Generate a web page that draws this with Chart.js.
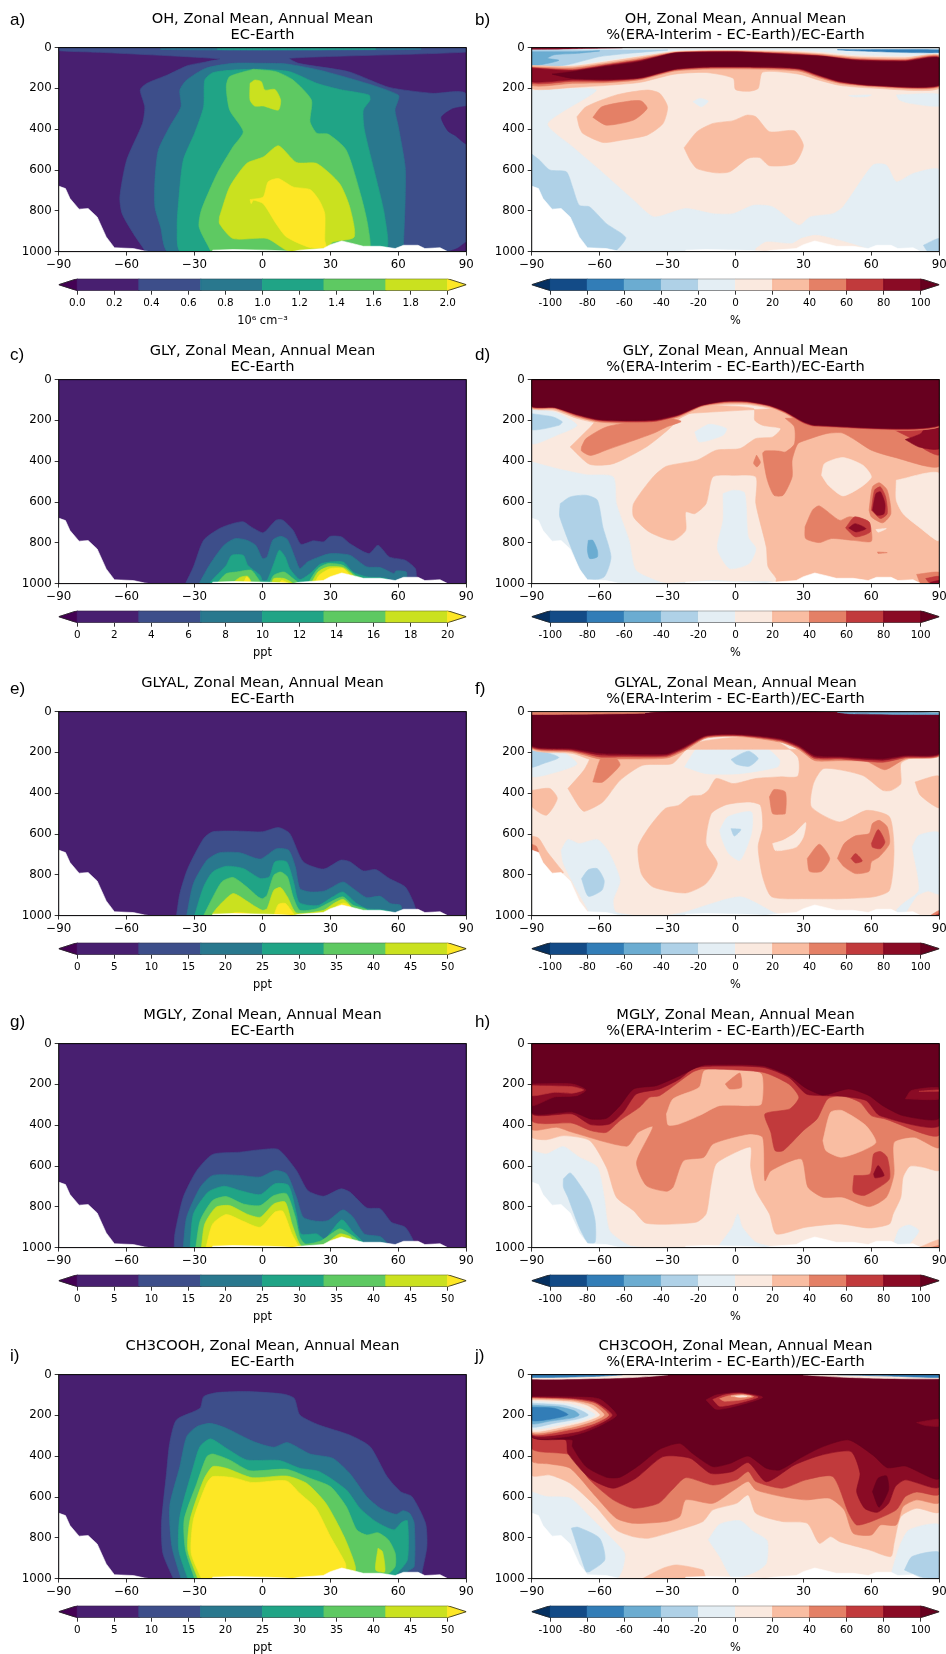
<!DOCTYPE html>
<html><head><meta charset="utf-8">
<script src="https://cdn.jsdelivr.net/npm/chart.js@4"></script>
<style>
html,body{margin:0;padding:0;background:#fff;}
body{position:relative;width:946px;height:1654px;overflow:hidden;font-family:"DejaVu Sans",sans-serif;}
canvas{position:absolute;}
.tag{position:absolute;font:17px "Liberation Sans",sans-serif;color:#000;line-height:20px;}
</style></head><body>
<script>
// ---- tick labels and colour bars ----
const latTicks=[-90,-60,-30,0,30,60,90];
const presTicks=[0,200,400,600,800,1000];
const ohTicks=[0,0.2,0.4,0.6,0.8,1,1.2,1.4,1.6,1.8,2];
const glyTicks=[0,2,4,6,8,10,12,14,16,18,20];
const pptTicks=[0,5,10,15,20,25,30,35,40,45,50];
const pctTicks=[-100,-80,-60,-40,-20,0,20,40,60,80,100];
const ohLevels=[0,0.333,0.667,1,1.333,1.667,2];
const glyLevels=[0,3.33,6.67,10,13.33,16.67,20];
const pptLevels=[0,8.33,16.67,25,33.33,41.67,50];
const pctLevels=[-100,-80,-60,-40,-20,0,20,40,60,80,100];
const viridisColors=['#481f70','#3d4e8a','#29788e','#20a486','#5ec962','#cae11f'];
const rdbuColors=['#134b87','#327db7','#6bacd1','#afd1e7','#e4eef4','#fae9df','#f9bda2','#e48066','#c13a3c','#8a0b25'];
const C={L1:'#481f70',L2:'#3d4e8a',L3:'#29788e',L4:'#20a486',L5:'#5ec962',L6:'#cae11f',L7:'#fde725',
 B5:'#134b87',B4:'#327db7',B3:'#6bacd1',B2:'#afd1e7',B1:'#e4eef4',P1:'#fae9df',P2:'#f9bda2',P3:'#e48066',P4:'#c13a3c',P5:'#8a0b25',P6:'#67001f'};

// ---- orography: latitude, pressure pairs ----
const terrain=[-90,679,-87,691,-85,740,-81,792,-77,789,-73,830,-69,928,-65.4,981,-57,985,-52,997,-50,1000,-22,1000,-22,993,-13,990,2,993,10.6,997,13,1000,16.5,993,26.8,985,30,966,35,948,40,961,44.5,974,52,974,58.6,985,62.3,969,68.7,969,71.7,985,78.4,981,81.8,1000,90,1000,90,1001,-90,1001];

// ---- a) OH, EC-Earth: contour outlines as latitude, pressure pairs ----
const a2=[-90,0,90,0,90,22,12,52,16,77,38,118,56,195,75,224,90,230,90,1000,-52,1000,-52,994,-57,912,-62,814,-63,732,-60,552,-53,372,-52,290,-54,207,-51,175,-42,134,-33,88,-25,70,-19,55,-72,23,-90,15];
const a1r=[90,287,84,300,79,342,82,410,85,430,90,470];
const a1b=[82,1000,86,985,90,955,90,1000];
const a3=[1.7,77,10.6,80,28,118,60,232,58.5,306,60,388,63,584,63,748,62.2,977,62,1000,-41.6,1000,-45,879,-47.5,781,-47.5,650,-46,503,-41,388,-36,290,-36.5,208,-33.5,159,-25,101,-13,77];
const a3t=[-45,5,0,3,70,5,70,9,0,13,-45,9];
const a4t=[-20,6,0,5,50,6,50,8,0,9,-20,8];
const a4=[-1,105,12,118,24,175,34,205,47,232,47.5,257,44.5,306,45,404,50,634,54,830,54,1000,-36,1000,-37.7,879,-37,748,-35,552,-30,420,-26,290,-25.5,159,-22,123,-13,110];
const a5=[-4,106,6,118,13.5,159,21.6,257,21,363,24,420,29,424,37,503,43.6,732,46.6,879,46.6,1000,-23,1000,-23,994,-28,879,-27,797,-20,617,-13,486,-8.5,412,-14.5,306,-16,191,-14.5,142];
const a6u=[-5.5,175,-3.4,159,-0.5,167,1,208,5.5,205,8,257,7,306,0.3,286,-3.5,286,-5.5,257];
const a6=[-19,830,-14.5,683,-7,568,0.5,535,7,481,15,563,24,568,34,666,38.5,781,40.5,928,31,953,28,985,12,1000,2,936,-13,936,-19,863];
const a7=[-5.5,745,0.3,732,2.5,658,7,642,13.5,683,21,696,25,748,27.5,814,27.5,945,28,977,21,980,10.6,928,6,863,0.3,765,-4,748,-5,765];

// ---- b) OH difference ----
const b1=[-90,210,-61.5,208,-83,372,-72,486,-60,600,-45,748,-36,830,-22,789,-10,814,-1,814,8,773,16.5,781,28,871,33,830,43,814,47.5,781,60.7,576,66.6,576,71,658,78.5,617,90,600,90,1000,-90,1000];
const b1p=[9,985,13.6,953,25,961,29,936,35.6,920,46,945,57.6,985,57.6,1000,9,1000];
const b1r=[71,232,90,229,90,286,77,273,72.4,257];
const b1s=[50,235,60,232,58,240,52,241];
const b1c=[-18.8,265,-15.8,249,-12,262,-15,290];
const b2=[-90,522,-86.5,552,-82,600,-74.7,609,-72,683,-69,773,-64.4,781,-57,863,-48.5,931,-52.6,994,-55,1000,-90,1000];
const b2r=[83,969,90,936,90,1000,85,1000];
const bP2a=[-70,339,-66,290,-52.6,232,-39,208,-33.5,224,-30,290,-32,372,-39,429,-50,453,-58.5,465,-67.4,421,-69,388];
const bP3a=[-63,342,-59,290,-46.7,262,-41.6,262,-39,298,-45,355,-57,380];
const bP2b=[-22.7,491,-17,412,-10,372,-1,358,5,331,9,339,15,412,26,408,30,481,26,568,15,579,10.6,539,5.5,543,-2.6,609,-8.6,614,-17,593,-20,552];
const bTop1=[-90,5,90,5,90,30,75,40,53,35,38,20,24,12,2,10,-13,10,-27,15,-42,38,-57,62,-72,85,-90,80];
const bTop2=[-90,12,-30,12,-33,15,-47,28,-60,44,-74.7,85,-90,93];
const bTop2r=[60,10,90,8,90,22,75,25];
const bTop3=[-90,20,-70,20,-60,16,-70,28,-80,35,-83,52,-78,62,-82,75,-90,85];
const bTop4=[45,10,70,10,90,12,90,24,70,22,50,14];
const bTop5=[-90,0,-50,0,-70,5,-90,8];
const bBand2=[-90,88,-72,92,-57,70,-42,45,-27,20,-13,15,2,15,24,20,38,30,53,45,75,50,90,38,90,200,60,198,46,185,37,160,28,130,12,120,10,200,6,214,0,205,-1,150,-13,122,-27,130,-42,170,-57,185,-72,195,-90,200];
const bBand3=[-90,95,-72,100,-57,78,-42,53,-27,24,-13,18,2,18,24,26,38,35,53,52,75,58,90,42,90,192,60,190,46,175,37,148,28,115,9,105,-13,105,-27,115,-42,157,-57,172,-72,175,-90,185];
const bBand4=[-90,98,-72,108,-57,84,-42,60,-27,25,-13,20,2,20,24,30,38,40,53,58,75,62,90,47,90,188,60,187,46,170,37,141,28,108,9,99,-13,99,-27,110,-42,152,-57,165,-72,165,-90,175];
const bBand5=[-90,101,-72,112,-57,88,-42,64,-27,27,-13,22,2,22,24,33,38,42,53,60,75,65,90,50,90,185,60,185,46,167,37,137,28,104,9,96,-13,96,-27,107,-42,149,-57,160,-72,158,-90,167];
const bBand6=[-81,130,-72,118,-57,93,-42,69,-27,28,-13,23,2,23,24,36,38.6,44,53.4,64,75,69,90,52,90,183,60,183,46,164,37,134,28,101,9,93,-13,93,-27,105,-42,146,-57,155,-72,151];

// ---- c) GLY, EC-Earth ----
const c2=[-34,1000,-30.5,918,-26,787,-19,730,-13,705,-8.5,697,-5,722,0,751,1.8,738,6,689,9,689,13.5,738,17,807,22.4,790,27,795,30,768,35,771,38.6,804,47,853,51,812,56,869,63,885,67.5,926,68,967,68,1000];
const c3=[-28,1000,-23,902,-17,812,-12,779,-7,787,-3,812,0,877,2,869,4.5,787,8,768,11,784,14.5,877,16.5,926,20,893,25,869,30,853,38.6,861,46,918,52,921,58,951,59,938,63.5,943,63.5,975,60,1000];
const c4=[-23,1000,-23,992,-16,910,-13.6,861,-8.5,861,-6.5,910,-1,960,0,985,2,985,5,902,7.4,836,10,869,12,926,16.5,980,21,951,26,902,35.5,894,40,943,46,967,55,975,55,1000];
const c5a=[-20,1000,-20,997,-16,951,-11.5,943,-5,934,-3,959,-1,1000];
const c5b=[3,1000,5,959,9.5,943,13.5,975,16,1000];
const c5c=[20,1000,24.5,926,29,902,35.5,910,41,959,44.5,975,46,1000];
const c6a=[-13.5,1000,-10,970,-6.5,964,-5,1000];
const c6b=[4,1000,5,975,9.5,975,13.5,1000];
const c6c=[21.5,1000,24.5,943,29,918,35.5,921,40,959,42,1000];
const c7a=[-8.5,1000,-7,967,-5.5,985,-6,1000];
const c7b=[7.4,1000,8.5,984,11.5,1000];
const c7c=[23,1000,25,959,30,926,35.5,926,38.5,959,38.5,1000];

// ---- d) GLY difference ----
const d1=[-90,403,-79,436,-66,466,-54,477,-52.6,608,-47,788,-44,935,-33.5,992,-30,1000,-90,1000];
const d1t=[-90,142,-79,163,-70,224,-79,273,-90,314];
const d2t=[-90,167,-80.6,183,-76.5,207,-78,224,-90,245];
const d1c=[-5.5,559,-1,542,4,555,5.6,771,9,828,6,902,-2.6,926,-8,828,-5.5,690];
const d1b=[-30,1000,-10,985,0,990,15,990,18,1000];
const d2m=[-77.4,608,-73,575,-66,567,-61,591,-58.6,722,-55,869,-58,967,-65,984,-69,918,-77.6,673];
const d3m=[-65,788,-63,788,-61,837,-61,869,-64.4,877,-65.4,837];
const d1u=[-18,257,-11.6,219,-4,240,-5.5,273,-16,306];
const dP2=[-73,330,-64,232,-60,190,90,190,90,1000,18,1000,18,975,14.4,918,13.6,820,9,608,9,477,-1,469,-10,477,-13,608,-18,657,-22,649,-22,739,-27.6,788,-38,747,-45,673,-45,608,-36.4,477,-30.5,425,-17,395,-8.5,346,2,338,9,289,16.5,281,20,240,12,224,8.5,199,8,142,-13,129,-22,167,-30,248,-39.4,330,-54,412,-64.4,415];
const dP2rim=[-90,0,90,0,90,225,30,225,22,170,15,140,5,122,-5,122,-15,140,-25,190,-35,218,-45,222,-60,215,-70,190,-80,150,-90,140];
const dP1r=[71,493,90,461,90,788,81,722,74,657,71,591];
const dP1i=[38,469,39.3,412,47.4,382,56.3,420,60,477,55.5,526,47.4,570,41,518];
const dP1s=[62,735,66.6,730,63,748];
const dP3l=[-68,330,-66,289,-57,232,-42,200,-30,190,-24,205,-30,230,-36,262,-48,310,-57,345,-64,372,-68,350];
const dP3c=[22,190,90,170,90,425,69.6,379,60,346,53,297,47,261,40,265,31,297,27.5,314,25,395,25,477,21,567,17,567,14,490,12,362,13,350,19,350,22,355,26,316,26,232];
const dP3t=[9.3,370,11,405,9.5,428,8,410];
const dP3a=[30.7,722,34,640,37,619,46,690,50,673,55.6,681,59,698,60,792,52,788,42.4,779,37,799,31,779];
const dP4a=[48.6,727,52.6,673,59,698,59.5,747,53,771];
const dP5a=[50,727,52.8,706,57.6,730,53.3,747];
const dP3h=[59,640,60.5,526,63.5,506,67,542,68.6,657,65,702,60,673];
const dP4h=[60,640,61.4,542,64,526,66.3,575,67,657,64,681];
const dP5h=[60.5,640,62,559,64,550,66,608,65.6,657,62.7,665];
const dP3s=[62.7,845,67,848,63,852];
const dP4r=[68,170,90,170,90,368,84,345,77,285,68,229];
const dP5r=[75,294,81.8,265,84,235,90,222,90,338,81,330];
const dB3r=[80,955,90,945,90,1000,82,1000];
const dB4r=[84,975,90,965,90,1000,86,1000];
const dB5r=[86,994,90,985,90,1000,87,1000];
const dBand3=[-90,0,90,0,90,232,35,232,30,218,22,165,15,133,5,115,-5,115,-15,132,-25,182,-35,210,-45,215,-60,208,-70,182,-80,142,-90,135];
const dBand4=[-90,0,90,0,90,228,35,228,30,212,22,160,15,129,5,110,-5,110,-15,128,-25,176,-35,204,-45,208,-60,202,-70,176,-80,138,-90,132];
const dBand5=[-90,0,90,0,90,225,35,225,30,208,22,157,15,127,5,107,-5,107,-15,126,-25,173,-35,199,-45,203,-60,198,-70,172,-80,136,-90,130];
const dBand6=[-90,0,90,0,90,222,35,222,30,205,22,155,15,125,5,105,-5,105,-15,125,-25,170,-35,195,-45,200,-60,195,-70,170,-80,135,-90,128];

// ---- e) GLYAL, EC-Earth ----
const e2=[-38,1000,-36.5,892,-33,769,-26,622,-22,589,-10,586,0,589,7,568,12,597,18,736,27,772,34.6,728,38.6,736,44.5,781,50,774,56,818,63,859,66.6,933,68,982,68,1000];
const e3=[-33.5,1000,-30.5,843,-24.5,728,-19,692,-10,692,-1,723,6,673,11.5,679,14.5,761,16.5,867,21,884,27.5,879,35.5,835,40,867,46,912,52,905,56.5,941,61,949,61.5,982,60,1000];
const e4=[-30,1000,-26,859,-22,786,-16,758,-8.5,769,-1,818,3,810,5.5,736,10.6,736,13.5,826,16,933,20,949,25,949,31,908,35.5,884,41.6,941,46,966,53,971,57,982,57,1000];
const e5=[-26,1000,-23,933,-18,835,-13,813,-7,859,-2,908,0,917,2,900,5,802,8,786,11,810,13.5,908,16.5,974,24,966,30,933,35.5,908,40,949,46,971,46,1000];
const e6=[-22,1000,-22,990,-19,949,-13,892,-7,928,-3,957,0,974,2,966,5,876,8,862,11,908,15,987,27,974,31,944,35.5,920,38.5,949,40,1000];
const e7a=[-16,1000,-12,985,-6,990,-5,1000];
const e7b=[5,1000,7,945,10,940,12,965,14,1000];
const e7c=[31,975,33,950,36,938,39,955,40,975];

// ---- f) GLYAL difference ----
const f1a=[-90,181,-79,181,-70,255,-79,296,-90,317];
const f2a=[-90,193,-85,195,-78,225,-85,255,-90,271];
const f1c=[-22.5,271,-16,170,2,149,12,165,19.5,238,18.6,271,2,304,-13,304];
const f2c=[-2,235,2.6,206,6,194,10,230,6,268,0.4,258];
const f1m=[-7,582,-3.4,516,7,492,7,598,2,729,-3,695,-6,625];
const f2m=[-2,574,2.4,578,-0.5,610];
const f1l=[-77,680,-74,627,-69,647,-61,627,-56,688,-51,827,-54,925,-53,982,-45,1000,-65,1000,-65,977,-70,876,-76,745];
const f2l=[-68,819,-65,775,-61,770,-58,827,-59,876,-65,905];
const f1b=[-30,1000,-22,982,2,908,16.4,982,20,1000];
const f1r=[78,663,81,606,90,595,90,893,85,880,80,905,74,1000,71,977,74,941,81,876];
const fP2=[-74,377,-67,288,-64,222,-64,190,90,190,90,220,77,230,73,255,73,353,68.8,386,65,386,56,312,39,279,34.4,353,33.5,467,46,541,58,484,68,516,70,680,68,876,61,908,46,917,31,917,16,908,12,810,10,663,12,565,11,459,6,443,-4,456,-10.7,500,-13,647,-8,745,-13,843,-22,889,-36.4,860,-41.6,794,-43,663,-38,565,-31,475,-25,459,-20,415,-15,410,-12,386,-8.5,328,-1,353,9,328,19.5,320,27.5,317,27.5,222,16,132,2,124,-16,149,-22,190,-28,255,-41,263,-51,337,-58.6,443,-66.7,489,-69,467];
const fP2rim=[-90,0,-60,0,-60,240,-72,205,-90,184];
const fP1h=[16.4,647,21,631,26,598,31,544,30,614,27,663,20.7,680,17.5,680];
const fP2l=[-90,386,-82,377,-78.7,426,-83.5,508,-90,464];
const fP2r=[79.3,345,90,317,90,471,81.6,410];
const fP2s=[-90,610,-87,620,-83,690,-78,760,-76,790,-80,800,-83,790,-90,690];
const fP3s=[-90,650,-88,660,-87,690,-90,685];
const fP3a=[-63,345,-58.6,345,-51,263,-52.7,230,-59,222];
const fP3b=[15,418,17,382,22,394,22,500,20,503,16.4,500];
const fP3c=[31.7,720,37,650,41.6,720,38,783,32.7,783];
const fP3d=[45,720,48,647,53,609,59,598,60.5,549,63.5,533,67,565,68,647,63.5,712,60,737,59,783,53,794,48,761];
const fP4a=[51,720,53,696,56,732,53,742];
const fP4b=[60,647,63,578,66,639,64,672,60.5,665];
const fBand3=[-90,14,-40,8,-25,0,30,0,45,5,90,14,90,216,75,232,66,285,58,245,46,240,35,240,28,186,20,150,2,122,-13,130,-23,194,-30.6,228,-50,232,-60,232,-72,198,-90,178];
const fBand4=[-90,14,-40,8,-25,0,30,0,45,5,90,14,90,212,75,226,65,248,46,232,35,230,28,178,20,143,2,118,-13,124,-23,186,-30.6,220,-50,222,-60,222,-72,192,-90,174];
const fBand5=[-90,14,-40,8,-25,0,30,0,45,5,90,14,90,208,75,220,65,238,46,225,35,222,28,172,20,138,2,115,-13,120,-23,180,-30.6,213,-50,214,-60,212,-72,187,-90,170];
const fBand6=[-90,14,-40,8,-25,0,30,0,45,5,90,14,90,203,75,214,65,230,46,219,35,214,28,165,20,132,2,111,-13,116,-23,173,-30.6,206,-50,206,-60,203,-72,181,-90,165];
const fTopB=[45,3,70,3,90,6,90,14,50,10];
const fTopP=[-90,4,-40,3,-40,8,-90,14];
const fP3br=[86,1000,90,975,90,1000];
const fP4br=[88,1000,90,990,90,1000];

// ---- g) MGLY, EC-Earth ----
const g2=[-39,1000,-38.7,933,-35,753,-29,622,-22,543,-10,532,-1,520,7,519,15,622,20,720,27,748,34.6,712,38.6,728,46,805,52,810,57,876,63,900,66.6,966,66.6,1000];
const g3=[-35,1000,-33.5,851,-27.5,704,-22,646,-10,646,-1,654,5.5,622,10.6,638,15,753,18,851,24,871,29,867,35.5,815,40,851,45,933,52,946,55,979,55,1000];
const g4=[-32,1000,-30.5,835,-24,728,-17,699,-10,720,-1,740,5.5,687,11.5,695,15,835,17,933,24,933,27.5,957,35,864,40,925,44.5,974,44.5,1000];
const g5=[-29.5,1000,-27.5,867,-22,769,-16,750,-8.5,786,-1,794,5,745,10.6,736,14.5,851,16.5,949,19,982,26,966,34,908,38.5,933,42,962,42,1000];
const g6=[-27,1000,-25.5,884,-20.5,802,-14.5,794,-7,835,-1,851,5,786,10,777,13,884,16,974,18,1000,27.5,982,34,933,39,949,40,1000];
const g7=[-25,1000,-22,884,-16,838,-8.5,871,-1,900,5.5,826,9,822,13,933,16,995,16,1000];
const g7b=[31,975,33,955,35,947,38,960,40,975];

// ---- h) MGLY difference ----
const h1l=[-90,524,-83.5,541,-76,505,-69,557,-61,606,-58,753,-55.6,917,-47,990,-40,1000,-90,1000];
const h2l=[-76,663,-73,634,-69,688,-64.4,770,-62,868,-62,974,-65,979,-69,900,-74,753,-76,704];
const h1c=[-8,1000,-1.4,900,1,835,3,900,9,974,17,1000];
const h1r=[70,974,72.4,908,76.7,889,81,917,78,966,75,1000];
const hP2=[-90,0,90,0,90,619,83,606,77,601,74,655,73,753,69.6,835,68,884,59,904,46,884,31,900,18,933,15,835,9,721,6.7,606,6.7,508,0,533,-8.6,590,-11,704,-13,835,-17.6,876,-39.4,881,-45,819,-52.6,753,-57,606,-64.4,475,-76,451,-83.5,471,-90,456];
const hP3=[-90,0,90,0,90,508,79,459,70,484,70,639,66.6,753,59,799,47.4,753,38.6,753,32,704,29,565,15.6,623,13,672,12,459,6,443,-10,492,-14,557,-23,574,-27.6,704,-30.5,724,-39.4,696,-43.7,582,-36.5,407,-43,435,-48,503,-72,435,-79,410,-90,418];
const hP2i=[38.6,476,42,337,47,328,57.6,402,62,484,56,525,46.6,557,40,525];
const hP2t=[-30.5,345,-27.6,271,-16,214,-13.6,132,2,124,11.4,149,11.4,296,6,304,-7,304,-16,353,-25,394,-29.7,399];
const hP3s=[-4.5,198,-1,165,2,145,2.6,214,-2.6,222];
const hP4=[-90,0,90,0,90,448,66,369,60,353,55,288,47,255,40.7,271,36,369,30,426,21,525,17.5,525,15.6,435,13,345,24,320,28,263,23.5,198,12,140,-14.6,124,-19,140,-33.5,255,-38,263,-42.4,312,-51,377,-57,435,-64,426,-72,390,-90,377];
const hP4h=[52.3,647,59.4,639,61,541,64,529,67,557,68,663,61,721,56.5,745,52,729];
const hP5h=[61,639,63,598,65.6,647,61.6,658];
const hP5=[-90,0,90,0,90,402,63.7,353,57.7,279,47,258,38.6,255,31.3,247,23.5,165,12,116,-13,111,-19,124,-24.6,173,-33.5,222,-43.8,247,-49.6,337,-55.6,394,-64,397,-72,345,-90,342];
const hP6=[-90,0,90,0,90,364,74,353,65,304,59,255,50,222,38.6,252,31,217,23.6,157,12,108,-13,103,-17,116,-24.6,157,-35,206,-45,222,-51,304,-57,366,-64,369,-72,335,-90,337];
const hP5l=[-90,198,-72,198,-66,227,-70,255,-80,262,-90,304];
const hP4l=[-90,206,-72,211,-67,227,-72,243,-80,239,-90,255];
const hP5r=[75,271,77.6,230,90,217,90,271];
const hP4r=[81,234,90,227,90,233];
const hP2br=[81,1000,90,961,90,1000];
const hP3br=[86,1000,90,990,90,1000];

// ---- i) CH3COOH, EC-Earth ----
const i2=[-39.4,1000,-44,876,-44.6,729,-42.4,484,-41,337,-38,222,-27.6,165,-26,108,-20,88,-7,83,9,95,14,116,16.5,198,25,247,38.5,296,47.5,353,55,500,61,574,66,598,72,729,72.6,843,70.5,966,70,1000];
const i3=[-36,1000,-40,843,-41,647,-36.5,451,-33.5,304,-29,255,-23,239,-16,263,-4,328,5,356,11,333,21,389,31,410,38.5,484,46,598,52,655,59,685,62,667,65,680,67,729,67,941,64,966,63,1000];
const i4=[-33,1000,-37,860,-36.5,696,-30.5,451,-27.6,353,-23,315,-16,361,-7,418,7.5,421,16.5,459,25,475,37,565,43,655,50,720,58,761,61.5,724,64,716,64,908,59,982,58,1000];
const i5=[-30,1000,-34,860,-34.6,712,-29,533,-24.6,402,-22,389,-14.6,418,-5.6,471,10.6,464,21,508,30,549,37,647,41.6,761,46,786,51,775,55.6,810,58.6,876,58.6,941,55,982,50,1000];
const i6=[-28.6,1000,-33,860,-32,712,-26,516,-22,451,-16,459,-4.6,505,10.6,497,19.5,533,28,631,36,794,41,941,40,1000];
const i6b=[51,851,53,868,54,966,50,958];
const i7=[-27,1000,-31.5,876,-30.5,712,-24.6,533,-22,500,-13,505,-4.6,529,10.6,521,16.5,582,23.6,655,30,794,36.6,925,36.6,958,30,1000];

// ---- j) CH3COOH difference ----
const j1l=[-90,574,-83.5,598,-73,606,-64.4,696,-55.6,794,-49,876,-50,958,-52.6,1000,-90,1000];
const j2l=[-72.5,753,-69.6,748,-60,802,-57.7,908,-64.4,966,-66,966];
const j1c=[-12,810,-7,734,2,716,8,770,14,815,13.6,925,9,966,-1,1000,-7,892];
const j1r=[69,966,72.4,843,76.7,761,90,737,90,1000,82,1000,71,1000];
const j2r=[74.6,958,78,892,90,871,90,1000,82.5,993];
const jP2b=[-41,1000,-32,949,-26,933,-14.4,958,-13.6,982,-13,1000];
const jP2=[-90,0,90,0,90,672,80,655,73,696,70,827,68.6,892,59,859,46,819,42,794,37,827,31.7,729,20.6,720,9,680,5.6,590,0.4,631,-10,663,-14.4,720,-25,761,-38.4,802,-45.3,794,-52.7,761,-61.7,647,-73,533,-82,492,-90,492];
const jP3=[-90,0,90,0,90,626,80,614,74,647,71,737,64,737,60,786,52,778,48,663,41.5,606,31,614,20.6,598,9,565,5.6,524,0.4,557,-10,631,-22,614,-24.6,696,-30.6,720,-45,729,-52.7,704,-61.7,598,-73,459,-82,438,-90,422];
const jP4=[-90,0,90,0,90,585,80,575,75,598,71,663,60,720,53.5,737,50,680,43,500,31,516,20.6,557,9,524,5.6,475,0.4,516,-10,541,-22,505,-28,565,-34,631,-45,655,-54,614,-64.4,516,-73,394,-90,361];
const jP5=[-90,0,90,0,90,549,75,516,70.6,549,67.6,631,62.6,675,57,655,53.5,574,55,484,51,377,38,394,26,443,13.6,525,5.6,431,-1.3,475,-11,484,-20,410,-32,402,-44,508,-54,557,-64.4,508,-74,386,-75,320,-90,295];
const jP6=[-90,0,90,0,90,508,75,448,67,456,60.6,394,50,320,38.6,353,28.4,410,19.6,467,13.6,459,5.6,399,-2.4,435,-10,451,-19,386,-24.6,337,-33.5,366,-42.4,443,-51,503,-57,503,-66,451,-72,353,-72,320,-90,304];
const jh=[60.5,574,63,508,66.7,497,67.6,565,63.4,650];
const jJ5=[-90,108,-70,110,-60,120,-52.5,198,-58,240,-66,280,-75,305,-90,305];
const jJ4=[-90,112,-72,118,-62,135,-54.5,198,-60,240,-70,280,-90,295];
const jJ3=[-90,115,-72,122,-62,142,-56,198,-62,238,-72,268,-90,290];
const jJ2=[-90,118,-72,128,-63,150,-58,198,-64,232,-74,262,-90,282];
const jJ1=[-90,125,-72,135,-65,155,-60,198,-66,228,-76,255,-90,275];
const jJb1=[-90,130,-74,143,-67,165,-62,198,-68,225,-78,248,-90,265];
const jJb2=[-90,140,-76,150,-69,172,-65,198,-70,218,-80,238,-90,255];
const jJb3=[-90,150,-78,158,-71,178,-69,198,-72,212,-82,228,-90,240];
const jJb4=[-90,160,-80,165,-74,196,-80,215,-90,225];
const jC5=[-13,124,-8.5,100,2,88,12,111,2,149,-8.5,170];
const jC4=[-10,122,-5,100,2,92,10,110,2,138,-7,155];
const jC3=[-7,118,-3,104,3,96,8,108,2,125,-5,130];
const jC2=[-2,105,3,100,7,106,2,112];
const jC1=[0,107,3,104,5,107,2,109];
const jR5=[80,235,90,219,90,252,84,250];
const jT1=[-90,0,-30,0,-45,14,-90,22];
const jT2=[-90,0,-50,0,-60,8,-90,14];
const jT3=[90,0,30,0,50,14,90,20];
const jT4=[90,0,45,0,70,8,90,14];

// ---- painter's order for each panel ----
const layersA=[['L2',a2],['L1',a1r],['L1',a1b],['L3',a3t],['L4',a4t],['L3',a3],['L4',a4],['L5',a5],['L6',a6u],['L6',a6],['L7',a7]];
const layersB=[['B1',b1],['P1',b1p],['B1',b1r],['B1',b1s],['B1',b1c],['B2',b2],['B2',b2r],['P2',bP2a],['P3',bP3a],['P2',bP2b],['B1',bTop1],['B2',bTop2],['B2',bTop2r],['B3',bTop3],['B4',bTop4],['P5',bTop5],['P2',bBand2],['P3',bBand3],['P4',bBand4],['P5',bBand5],['P6',bBand6]];
const layersC=[['L2',c2],['L3',c3],['L4',c4],['L5',c5a],['L5',c5b],['L5',c5c],['L6',c6a],['L6',c6b],['L6',c6c],['L7',c7a],['L7',c7b],['L7',c7c]];
const layersD=[['B1',d1],['B1',d1t],['B2',d2t],['B1',d1c],['B1',d1b],['B2',d2m],['B3',d3m],['B1',d1u],['P2',dP2],['P2',dP2rim],['P1',dP1r],['P1',dP1i],['P1',dP1s],['P3',dP3l],['P3',dP3c],['P3',dP3t],['P3',dP3a],['P4',dP4a],['P5',dP5a],['P3',dP3h],['P4',dP4h],['P5',dP5h],['P3',dP3s],['P4',dP4r],['P5',dP5r],['P3',dB3r],['P4',dB4r],['P5',dB5r],['P3',dBand3],['P4',dBand4],['P5',dBand5],['P6',dBand6]];
const layersE=[['L2',e2],['L3',e3],['L4',e4],['L5',e5],['L6',e6],['L7',e7a],['L7',e7b],['L7',e7c]];
const layersF=[['B1',f1a],['B2',f2a],['B1',f1c],['B2',f2c],['B1',f1m],['B2',f2m],['B1',f1l],['B2',f2l],['B1',f1b],['B1',f1r],['P2',fP2],['P2',fP2rim],['P1',fP1h],['P2',fP2l],['P2',fP2r],['P2',fP2s],['P3',fP3s],['P3',fP3a],['P3',fP3b],['P3',fP3c],['P3',fP3d],['P4',fP4a],['P4',fP4b],['P3',fBand3],['P4',fBand4],['P5',fBand5],['P6',fBand6],['B3',fTopB],['P3',fTopP],['P3',fP3br],['P4',fP4br]];
const layersG=[['L2',g2],['L3',g3],['L4',g4],['L5',g5],['L6',g6],['L7',g7],['L7',g7b]];
const layersH=[['B1',h1l],['B2',h2l],['B1',h1c],['B1',h1r],['P2',hP2],['P3',hP3],['P2',hP2i],['P2',hP2t],['P3',hP3s],['P4',hP4],['P4',hP4h],['P5',hP5h],['P5',hP5],['P6',hP6],['P5',hP5l],['P4',hP4l],['P5',hP5r],['P4',hP4r],['P2',hP2br],['P3',hP3br]];
const layersI=[['L2',i2],['L3',i3],['L4',i4],['L5',i5],['L6',i6],['L6',i6b],['L7',i7]];
const layersJ=[['B1',j1l],['B2',j2l],['B1',j1c],['B1',j1r],['B2',j2r],['P2',jP2b],['P2',jP2],['P3',jP3],['P4',jP4],['P5',jP5],['P6',jP6],['P5',jR5],['P6',jh],['P5',jJ5],['P4',jJ4],['P3',jJ3],['P2',jJ2],['P1',jJ1],['B1',jJb1],['B2',jJb2],['B3',jJb3],['B4',jJb4],['P5',jC5],['P4',jC4],['P3',jC3],['P2',jC2],['P1',jC1],['P1',jT1],['B4',jT2],['P1',jT3],['B4',jT4]];

const titleEC='EC-Earth', titleDiff='%(ERA-Interim - EC-Earth)/EC-Earth';
const FONT='"DejaVu Sans"';
const toPts=f=>{const p=[];for(let i=0;i<f.length;i+=2)p.push({x:f[i],y:f[i+1]});if(p.length)p.push(p[0]);return p;};
const shape=(color,flat,fill=true,bw=0.6,bc,tension=0)=>({data:toPts(flat),fill:fill?'shape':false,backgroundColor:color,borderColor:bc||color,borderWidth:bw,pointRadius:0,tension:tension});
const framePlugin={id:'frame',afterDatasetsDraw(ch){const a=ch.chartArea,c=ch.ctx;c.save();c.strokeStyle='#000';c.lineWidth=1;c.strokeRect(a.left,a.top,a.right-a.left,a.bottom-a.top);c.restore();}};

function panel(left,top,name,sub,base,layers,tag,tagX,tagY){
 const cv=document.createElement('canvas');cv.width=473;cv.height=277;cv.style.left=left+'px';cv.style.top=top+'px';document.body.appendChild(cv);
 const sets=[shape(C[base],[-90,0,90,0,90,1000,-90,1000])];
 layers.forEach(l=>{sets.push(shape(C[l[0]],l[1],true,0.6,undefined,0.22));});
 sets.push(shape('#ffffff',terrain));
 sets.reverse();
 new Chart(cv,{type:'line',data:{datasets:sets},plugins:[framePlugin],options:{responsive:false,animation:false,events:[],
  layout:{padding:{left:0,right:6.7,top:0,bottom:0}},
  plugins:{legend:{display:false},tooltip:{enabled:false},
   title:{display:true,fullSize:false,text:[name+', Zonal Mean, Annual Mean',sub],color:'#000',font:{family:FONT,size:14.6,weight:'normal',lineHeight:1.117},padding:{top:10.8,bottom:4.2}}},
  scales:{
   x:{type:'linear',min:-90,max:90,afterBuildTicks:s=>{s.ticks=latTicks.map(v=>({value:v}));},afterFit:s=>{s.height=25.4;s.paddingLeft=0;s.paddingRight=0;},
    grid:{drawOnChartArea:false,drawTicks:true,tickLength:4,color:'#000',lineWidth:0.8},border:{display:false},
    ticks:{maxRotation:0,autoSkip:false,padding:2,color:'#000',font:{family:FONT,size:11.8},callback:v=>String(v).replace('-','\u2212')}},
   y:{type:'linear',reverse:true,min:0,max:1000,afterBuildTicks:s=>{s.ticks=presTicks.map(v=>({value:v}));},afterFit:s=>{s.width=58.7;},
    grid:{drawOnChartArea:false,drawTicks:true,tickLength:4,color:'#000',lineWidth:0.8},border:{display:false},
    ticks:{padding:3,color:'#000',font:{family:FONT,size:11.8},callback:v=>String(v)}}
  }}});
 const t=document.createElement('div');t.className='tag';t.textContent=tag;t.style.left=tagX+'px';t.style.top=(tagY-10)+'px';document.body.appendChild(t);
}

function colorbar(left,top,levels,colors,under,over,ticks,label,fmt){
 const cv=document.createElement('canvas');cv.width=473;cv.height=58;cv.style.left=left+'px';cv.style.top=top+'px';document.body.appendChild(cv);
 const lo=levels[0],hi=levels[levels.length-1],ext=(hi-lo)*0.0503;
 const sets=[];
 sets.push(shape(under,[lo-ext,0.5,lo,1,lo,0]));
 colors.forEach((c,i)=>sets.push(shape(c,[levels[i],0,levels[i+1],0,levels[i+1],1,levels[i],1])));
 sets.push(shape(over,[hi+ext,0.5,hi,1,hi,0]));
 sets.push(shape('#000',[lo-ext,0.5,lo,1,hi,1,hi+ext,0.5,hi,0,lo,0],false,0.8,'#222'));
 sets.reverse();
 new Chart(cv,{type:'line',data:{datasets:sets},options:{responsive:false,animation:false,events:[],
  layout:{padding:{left:58.7,right:6.7,top:8.7,bottom:0.3}},
  plugins:{legend:{display:false},tooltip:{enabled:false},title:{display:false}},
  scales:{
   x:{type:'linear',min:lo-ext,max:hi+ext,afterBuildTicks:s=>{s.ticks=ticks.map(v=>({value:v}));},afterFit:s=>{s.height=37;s.paddingLeft=0;s.paddingRight=0;},
    grid:{drawOnChartArea:false,drawTicks:true,tickLength:4,color:'#000',lineWidth:0.8},border:{display:false},
    title:{display:true,text:label,color:'#000',font:{family:FONT,size:11.4},padding:0},
    ticks:{maxRotation:0,autoSkip:false,padding:2,color:'#000',font:{family:FONT,size:10.4},callback:fmt}},
   y:{display:false,min:0,max:1}
  }}});
}

const plain=v=>String(v);
const one=v=>Number(v).toFixed(1);
const vC=viridisColors,rC=rdbuColors;
const tops=[0,332,664,996,1327];
const cbTops=[270,602,934,1266,1597];
panel(0,tops[0],'OH',titleEC,'L1',layersA,'a)',10,20);
panel(473,tops[0],'OH',titleDiff,'P1',layersB,'b)',475,20);
panel(0,tops[1],'GLY',titleEC,'L1',layersC,'c)',10,355);
panel(473,tops[1],'GLY',titleDiff,'P1',layersD,'d)',475,355);
panel(0,tops[2],'GLYAL',titleEC,'L1',layersE,'e)',10,689);
panel(473,tops[2],'GLYAL',titleDiff,'P1',layersF,'f)',475,689);
panel(0,tops[3],'MGLY',titleEC,'L1',layersG,'g)',10,1022);
panel(473,tops[3],'MGLY',titleDiff,'P1',layersH,'h)',475,1022);
panel(0,tops[4],'CH3COOH',titleEC,'L1',layersI,'i)',10,1356);
panel(473,tops[4],'CH3COOH',titleDiff,'P1',layersJ,'j)',475,1356);
colorbar(0,cbTops[0],ohLevels,vC,'#440154','#fde725',ohTicks,'10\u2076 cm\u207B\u00B3',one);
colorbar(473,cbTops[0],pctLevels,rC,'#053061','#67001f',pctTicks,'%',plain);
colorbar(0,cbTops[1],glyLevels,vC,'#440154','#fde725',glyTicks,'ppt',plain);
colorbar(473,cbTops[1],pctLevels,rC,'#053061','#67001f',pctTicks,'%',plain);
colorbar(0,cbTops[2],pptLevels,vC,'#440154','#fde725',pptTicks,'ppt',plain);
colorbar(473,cbTops[2],pctLevels,rC,'#053061','#67001f',pctTicks,'%',plain);
colorbar(0,cbTops[3],pptLevels,vC,'#440154','#fde725',pptTicks,'ppt',plain);
colorbar(473,cbTops[3],pctLevels,rC,'#053061','#67001f',pctTicks,'%',plain);
colorbar(0,cbTops[4],pptLevels,vC,'#440154','#fde725',pptTicks,'ppt',plain);
colorbar(473,cbTops[4],pctLevels,rC,'#053061','#67001f',pctTicks,'%',plain);
</script>
</body></html>
